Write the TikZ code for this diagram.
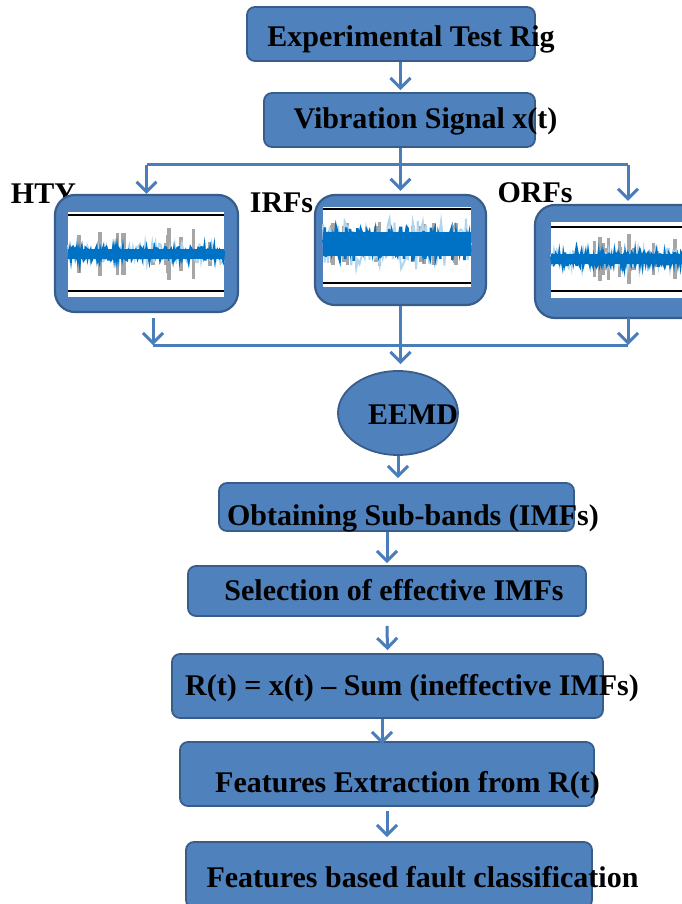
\documentclass[tikz,border=0pt]{standalone}
\usepackage{fontspec}
\setmainfont{Liberation Serif}
\usetikzlibrary{shapes.geometric,arrows.meta,calc}

\definecolor{boxfill}{RGB}{79,129,189}
\definecolor{boxline}{RGB}{56,93,138}
\definecolor{flowblue}{RGB}{74,126,187}
\definecolor{sigblue}{RGB}{0,114,198}

\tikzset{
  stage/.style={draw=boxline, fill=boxfill, line width=1.8pt, rounded corners=8pt, inner sep=0pt},
  panel/.style={stage, rounded corners=20pt, line width=2.2pt},
  caption/.style={font=\fontsize{30}{33}\selectfont\bfseries, inner sep=0pt, anchor=base},
  link/.style={draw=flowblue, line width=3pt},
  flow/.style={link, -{Straight Barb[length=10pt,width=20pt,line width=3pt]}},
}

% signal snapshot: x0, y0, x1, y1, top rule, bottom rule, centre, band, spikes
\newcommand{\sigpanel}[9]{%
  \fill[white] (#1,#2) rectangle (#3,#4);
  \foreach \k in {1,...,14}{
    \pgfmathsetmacro{\xs}{#1+5+rnd*(#3-#1-10)}
    \pgfmathsetmacro{\hs}{#8+rnd*(#9-#8)}
    \draw[black!35, line width=3.5pt] (\xs,#7-\hs) -- (\xs,#7+\hs);
  }
  \draw[sigblue!30, line width=2pt] plot[domain=#1:#3, samples=90] (\x,{#7+1.5*#8*rand});
  \draw[sigblue, line width=1.4*#8] (#1,#7) -- (#3,#7);
  \draw[sigblue, line width=2.5pt] plot[domain=#1:#3, samples=160] (\x,{#7+#8*rand});
  \draw[black, line width=1.3pt] (#1,#5) -- (#3,#5) (#1,#6) -- (#3,#6);
}

\begin{document}
\begin{tikzpicture}[x=1pt, y=-1pt]
    \useasboundingbox (0,0) rectangle (682,904);
    \clip (0,0) rectangle (682,904);
    \pgfmathsetseed{11}

    % Labels of the three conditions (behind the panels)
    \node[caption] (htyl) at (43.5,204) {HTY};
    \node[caption] (irfl) at (281.5,212) {IRFs};
    \node[caption] (orfl) at (535,202) {ORFs};

    % Boxes
    \node[stage, minimum width=288, minimum height=54] (rig) at (391,34) {};
    \node[stage, minimum width=271, minimum height=54] (vib) at (399.5,120) {};
    \node[panel, minimum width=183, minimum height=117] (hty) at (146.5,253.5) {};
    \node[panel, minimum width=171, minimum height=110] (irf) at (400.5,250) {};
    \node[panel, minimum width=186, minimum height=113] (orf) at (628,261.5) {};
    \node[stage, ellipse, minimum width=120, minimum height=84] (eemd) at (398,413) {};
    \node[stage, minimum width=355, minimum height=48] (subb) at (396.5,507) {};
    \node[stage, minimum width=398, minimum height=50] (sel) at (387,591) {};
    \node[stage, minimum width=431, minimum height=64] (rt) at (387.5,686) {};
    \node[stage, minimum width=414, minimum height=64] (fex) at (387,774) {};
    \node[stage, minimum width=406, minimum height=66] (fcl) at (389,875) {};

    % Signal snapshots
    \sigpanel{68}{212}{224}{297}{215}{291}{254}{7}{27}
    \sigpanel{323}{207}{471}{287}{209}{283}{244}{17}{22}
    \sigpanel{551}{222}{682}{298}{227}{291}{259}{7}{27}

    % Texts
    \node[caption] (rigt) at (411,47) {Experimental Test Rig};
    \node[caption] (vibt) at (425.5,129) {Vibration Signal x(t)};
    \node[caption] (eemdt) at (413,424) {EEMD};
    \node[caption] (subbt) at (413,525) {Obtaining Sub-bands (IMFs)};
    \node[caption] (selt) at (394,600) {Selection of effective IMFs};
    \node[caption] (rtt) at (412,695) {R(t) = x(t) -- Sum (ineffective IMFs)};
    \node[caption] (fext) at (407.5,792) {Features Extraction from R(t)};
    \node[caption] (fclt) at (422.5,887) {Features based fault classification};

    % Split towards the three conditions
    \coordinate (split) at (400.5,165);
    \coordinate (splitl) at (146.5,165);
    \coordinate (splitr) at (628,165);
    \draw[flow] (rig.south -| irf.north) -- ($(vib.north -| irf.north)+(0,-2)$);
    \draw[link] (vib.south -| split) -- (split);
    \draw[link] (splitl) -- (splitr);
    \draw[flow] (split) -- ($(irf.north)+(0,-3)$);
    \draw[flow] (splitl) -- (hty.north);
    \draw[flow] (splitr) -- ($(orf.north)+(0,-3)$);

    % Merge into EEMD
    \coordinate (mergel) at (153,345);
    \coordinate (merger) at (628,345);
    \draw[flow] (153,318) -- (mergel);
    \draw[flow] (628,318) -- (merger);
    \draw[link] (mergel) -- (merger);
    \draw[flow] (irf.south) -- ($(irf.south |- eemd.north)+(0,-6)$);

    % Main chain
    \draw[flow] (eemd.south) -- ($(subb.north -| eemd)+(0,-4)$);
    \draw[flow] (subb.south -| sel.north) -- ($(sel.north)+(0,-2)$);
    \draw[flow] ($(sel.south)+(0,9)$) -- ($(rt.north)+(0,-3)$);
    \draw[flow] (rt.south -| 382,0) -- ($(fex.north -| 382,0)+(0,3)$);
    \draw[flow] ($(fex.south)+(0,4)$) -- ($(fex.south |- fcl.north)+(0,-4)$);
\end{tikzpicture}
\end{document}
